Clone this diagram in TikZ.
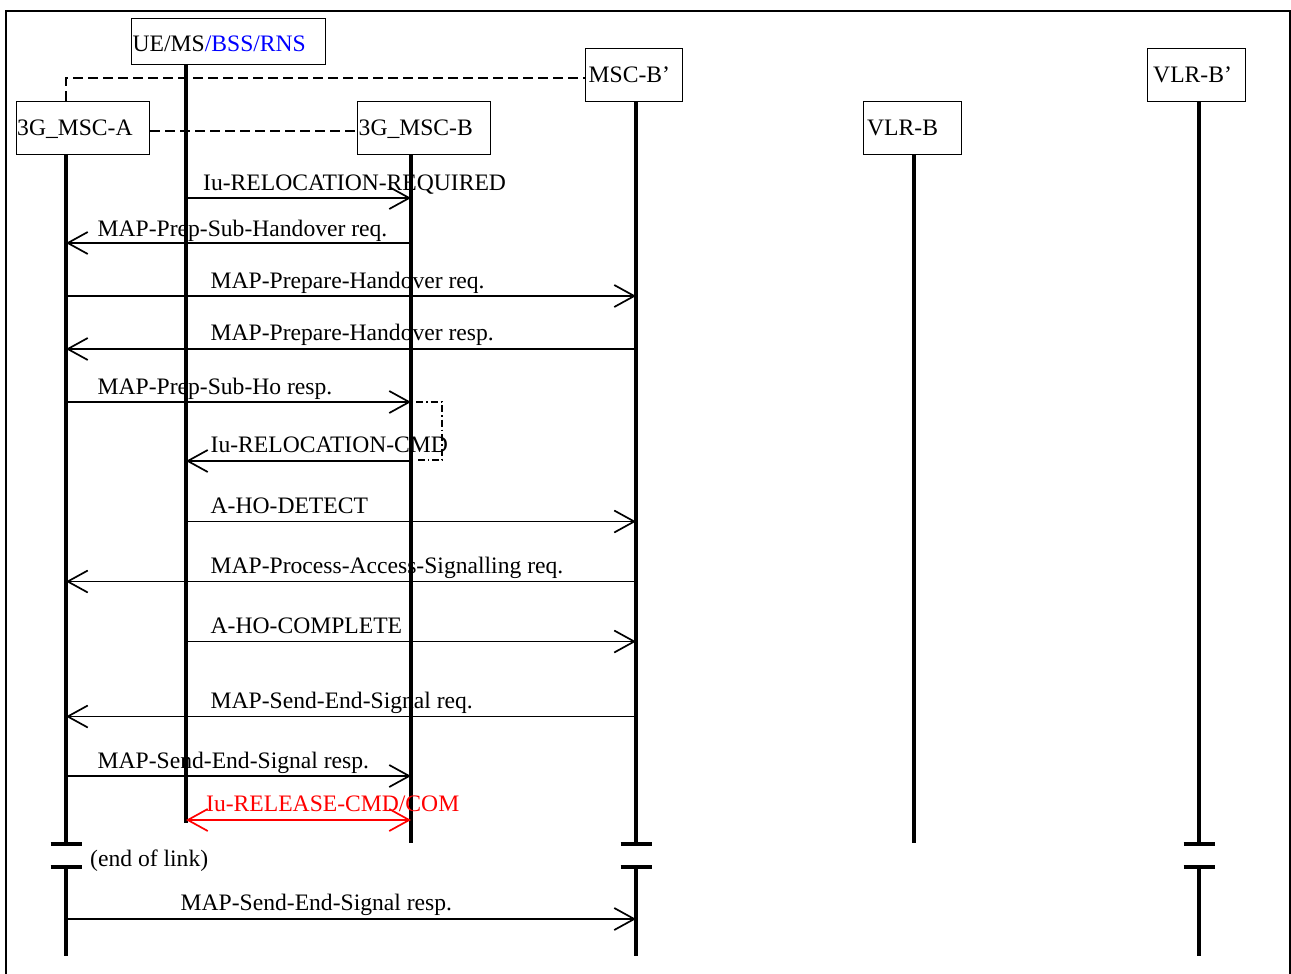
\documentclass[tikz,border=0pt]{standalone}
\usepackage{fontspec}
\setmainfont{Liberation Serif}
\usetikzlibrary{arrows.meta}
\begin{document}
\begin{tikzpicture}[x=1pt,y=-1pt,
  every node/.style={font=\fontsize{23.6}{28}\selectfont},
  box/.style={draw, line width=1.4pt, anchor=north west, align=left,
    inner ysep=0pt, text height=16pt, text depth=2pt},
  life/.style={line width=3.2pt},
  bar/.style={line width=4pt},
  msg/.style={line width=1.7pt, -{Straight Barb[length=20pt,width=22pt,line width=1.7pt]}},
  dmsg/.style={line width=1.7pt, {Straight Barb[length=20pt,width=22pt,line width=1.7pt]}-{Straight Barb[length=20pt,width=22pt,line width=1.7pt]}},
  lab/.style={anchor=base west, inner sep=0pt},
  link/.style={line width=1.6pt, dash pattern=on 10pt off 5pt},
  ddot/.style={line width=1.6pt, dash pattern=on 7pt off 3pt on 1.5pt off 3pt}]
\useasboundingbox (0,0) rectangle (1291,974);
\draw[line width=1.4pt] (6,990) -- (6,11) -- (1290,11) -- (1290,990);

% boxes
\node[box, text width=192pt, inner xsep=1pt, minimum height=46pt, text height=19pt, text depth=0pt] (UE) at (131,18) {UE/MS\textcolor{blue}{/BSS/RNS}};
\node[box, text width=91pt, inner xsep=3pt, minimum height=53pt] (MB) at (585,48) {MSC-B’};
\node[box, text width=132pt, inner xsep=0.5pt, minimum height=53pt] (A) at (16,101) {3G\_MSC-A};
\node[box, text width=131pt, inner xsep=1pt, minimum height=53pt] (B) at (357,101) {3G\_MSC-B};
\node[box, text width=91pt, inner xsep=3.5pt, minimum height=53pt] (V) at (863,101) {VLR-B};
\node[box, text width=87pt, inner xsep=5.5pt, minimum height=53pt] (VP) at (1147,48) {VLR-B’};

% lifeline x positions
\coordinate (xA) at (66,0);
\coordinate (xUE) at (186,0);
\coordinate (xB) at (411,0);
\coordinate (xMB) at (636,0);
\coordinate (xV) at (914,0);
\coordinate (xVP) at (1199,0);

% dashed links
\draw[link] (A.north -| xA) -- (xA |- 0,78) -- (MB.west |- 0,78);
\draw[link] (A.east |- 0,131) -- (B.west |- 0,131);

% lifelines
\draw[life] (A.south -| xA) -- (xA |- 0,843);
\draw[life] (xA |- 0,867) -- (xA |- 0,956);
\draw[life] (UE.south -| xUE) -- (xUE |- 0,823);
\draw[life] (B.south -| xB) -- (xB |- 0,843);
\draw[life] (MB.south -| xMB) -- (xMB |- 0,843);
\draw[life] (xMB |- 0,867) -- (xMB |- 0,956);
\draw[life] (V.south -| xV) -- (xV |- 0,843);
\draw[life] (VP.south -| xVP) -- (xVP |- 0,843);
\draw[life] (xVP |- 0,867) -- (xVP |- 0,956);

% break bars
\foreach \c in {xA,xMB,xVP}{
  \draw[bar] ([xshift=-15.5pt]\c |- 0,844) -- ([xshift=15.5pt]\c |- 0,844);
  \draw[bar] ([xshift=-15.5pt]\c |- 0,867) -- ([xshift=15.5pt]\c |- 0,867);
}

% messages
\draw[msg] (xUE |- 0,198) -- (xB |- 0,198);
\node[lab] at (203,190.5) {Iu-RELOCATION-REQUIRED};
\draw[msg] (xB |- 0,243) -- (xA |- 0,243);
\node[lab] at (97.5,236.5) {MAP-Prep-Sub-Handover req.};
\draw[msg] (xA |- 0,296) -- (xMB |- 0,296);
\node[lab] at (210.5,288.5) {MAP-Prepare-Handover req.};
\draw[msg] (xMB |- 0,349) -- (xA |- 0,349);
\node[lab] at (210.5,340.5) {MAP-Prepare-Handover resp.};
\draw[msg] (xA |- 0,402) -- (xB |- 0,402);
\node[lab] at (97.5,394) {MAP-Prep-Sub-Ho resp.};
\draw[ddot] (416,402) -- (442,402) -- (442,460) -- (416,460);
\draw[msg] (xB |- 0,461) -- (xUE |- 0,461);
\node[lab] at (210.5,452) {Iu-RELOCATION-CMD};
\draw[msg] (xUE |- 0,521.5) -- (xMB |- 0,521.5);
\node[lab] at (210.5,513) {A-HO-DETECT};
\draw[msg] (xMB |- 0,581.5) -- (xA |- 0,581.5);
\node[lab] at (210.5,573) {MAP-Process-Access-Signalling req.};
\draw[msg] (xUE |- 0,641.5) -- (xMB |- 0,641.5);
\node[lab] at (210.5,633) {A-HO-COMPLETE};
\draw[msg] (xMB |- 0,716.5) -- (xA |- 0,716.5);
\node[lab] at (210.5,708) {MAP-Send-End-Signal req.};
\draw[msg] (xA |- 0,776) -- (xB |- 0,776);
\node[lab] at (97.5,768) {MAP-Send-End-Signal resp.};
\draw[dmsg, red] (xUE |- 0,820) -- (xB |- 0,820);
\node[lab, text=red] at (206,811) {Iu-RELEASE-CMD/COM};
\node[lab] at (90,866) {(end of link)};
\draw[msg] (xA |- 0,919) -- (xMB |- 0,919);
\node[lab] at (180.5,910.5) {MAP-Send-End-Signal resp.};
\end{tikzpicture}
\end{document}
